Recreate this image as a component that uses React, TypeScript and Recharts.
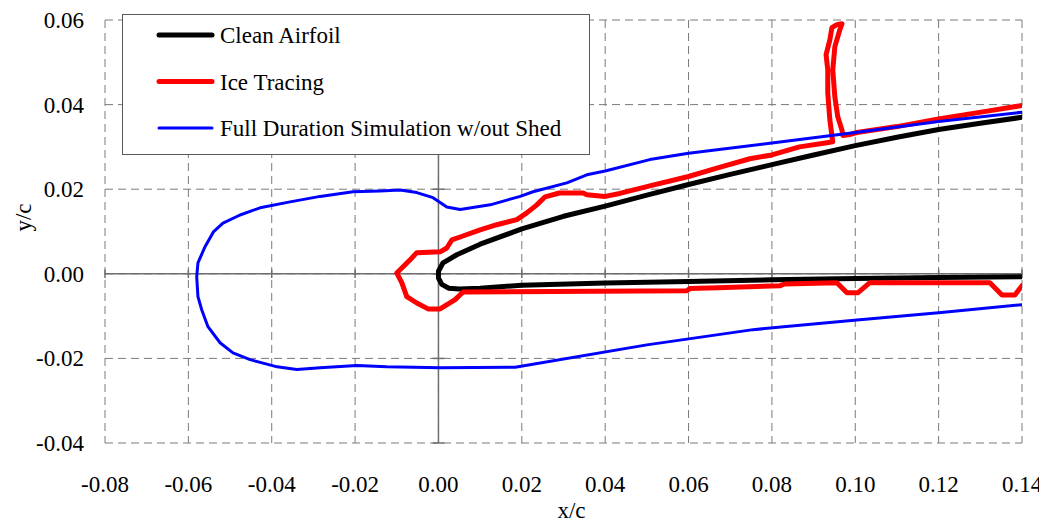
import { LineChart, Line, XAxis, YAxis, CartesianGrid, ReferenceLine, Legend, Label } from 'recharts'

const FONT = '"Liberation Serif", "Times New Roman", serif'
const GRID = '#7a7a7a'

const X_TICKS = [-0.08, -0.06, -0.04, -0.02, 0, 0.02, 0.04, 0.06, 0.08, 0.1, 0.12, 0.14]
const Y_TICKS = [-0.04, -0.02, 0, 0.02, 0.04, 0.06]

// clean section: upper surface from x/c = 0.14 forward to the nose, then lower surface aft
const cleanAirfoil: Array<[number, number]> = [
  [0.14, 0.037], [0.13, 0.0356], [0.12, 0.0341], [0.11, 0.0323], [0.1, 0.0303],
  [0.09, 0.0281], [0.08, 0.0258], [0.07, 0.0235], [0.06, 0.0211], [0.05, 0.0186],
  [0.04, 0.016], [0.03, 0.0136], [0.02, 0.0106], [0.01, 0.007], [0.0044, 0.0045],
  [0.0011, 0.0026], [0.0, 0.0006], [0.0, -0.001], [0.0008, -0.0025], [0.0025, -0.0034],
  [0.005, -0.0036], [0.01, -0.0034], [0.02, -0.0027], [0.04, -0.0022], [0.06, -0.0018],
  [0.08, -0.0014], [0.1, -0.0011], [0.12, -0.0009], [0.14, -0.0007],
]

// traced ice shape, upper surface incl. the horn, around the leading edge, lower surface
const iceTracing: Array<[number, number]> = [
  [0.14, 0.0398], [0.1313, 0.0384], [0.12, 0.0366], [0.11, 0.0348], [0.1004, 0.0334],
  [0.099, 0.033], [0.097, 0.0327], [0.0968, 0.034], [0.0958, 0.0371], [0.0951, 0.0418],
  [0.0946, 0.0482], [0.0951, 0.0537], [0.0963, 0.0577], [0.0968, 0.0591], [0.0956, 0.0589],
  [0.0944, 0.0582], [0.0939, 0.0553], [0.093, 0.0518], [0.0934, 0.0482], [0.0934, 0.0428],
  [0.0939, 0.0364], [0.0946, 0.0312], [0.0932, 0.031], [0.0866, 0.03], [0.08, 0.0281],
  [0.0747, 0.0272], [0.0668, 0.025], [0.06, 0.023], [0.0507, 0.0208], [0.0435, 0.019],
  [0.04, 0.0183], [0.0356, 0.0187], [0.0347, 0.0191], [0.029, 0.0191], [0.0256, 0.0182],
  [0.0236, 0.0163], [0.0212, 0.0144], [0.0188, 0.0128], [0.014, 0.0116], [0.01, 0.0104],
  [0.0052, 0.0087], [0.0032, 0.008], [0.002, 0.0061], [0.0004, 0.0052], [-0.0052, 0.005],
  [-0.0068, 0.0033], [-0.01, 0.0002], [-0.0088, -0.0021], [-0.0076, -0.0054], [-0.0052, -0.0069],
  [-0.0025, -0.0083], [0.0004, -0.0083], [0.004, -0.0061], [0.0059, -0.0043], [0.0596, -0.004],
  [0.0603, -0.0035], [0.067, -0.0033], [0.082, -0.0028], [0.083, -0.0024], [0.0956, -0.0021],
  [0.098, -0.0045], [0.1006, -0.0045], [0.1035, -0.0021], [0.1323, -0.0021], [0.1352, -0.005],
  [0.1383, -0.005], [0.14, -0.0028],
]

// simulated ice accretion, full duration, no shedding
const fullDuration: Array<[number, number]> = [
  [0.14, 0.0382], [0.12, 0.036], [0.1, 0.0334], [0.08, 0.0309], [0.06, 0.0285],
  [0.0507, 0.027], [0.04, 0.0243], [0.0356, 0.0234], [0.0308, 0.0215], [0.0227, 0.0194],
  [0.0196, 0.0183], [0.0124, 0.0163], [0.0052, 0.0152], [0.002, 0.0158], [-0.0013, 0.018],
  [-0.0052, 0.0192], [-0.0092, 0.0198], [-0.014, 0.0196], [-0.0205, 0.0194], [-0.0284, 0.0183],
  [-0.0356, 0.017], [-0.0428, 0.0156], [-0.0476, 0.0139], [-0.0517, 0.012], [-0.054, 0.0099],
  [-0.056, 0.0064], [-0.0577, 0.0026], [-0.058, -0.0007], [-0.0577, -0.0054], [-0.0568, -0.0085],
  [-0.0553, -0.0125], [-0.0524, -0.0163], [-0.0493, -0.0187], [-0.0452, -0.0203], [-0.0387, -0.022],
  [-0.034, -0.0226], [-0.0284, -0.0222], [-0.0196, -0.0217], [-0.0124, -0.022], [0.0004, -0.0222],
  [0.0184, -0.0221], [0.05, -0.0168], [0.0755, -0.0132], [0.1004, -0.0109], [0.12, -0.0092],
  [0.14, -0.0073],
]

const SERIES = [
  { name: 'Clean Airfoil', color: '#000000', width: 5, points: cleanAirfoil },
  { name: 'Ice Tracing', color: '#ff0000', width: 5, points: iceTracing },
  { name: 'Full Duration Simulation w/out Shed', color: '#0000ff', width: 3, points: fullDuration },
]

const toRows = (pts: Array<[number, number]>) => pts.map(([x, y]) => ({ x, y }))

const XTick = ({ x, y, payload }: any) => (
  <text x={x} y={y + 47} textAnchor="middle" fontFamily={FONT} fontSize={23} fill="#000">
    {payload.value.toFixed(2)}
  </text>
)

const YTick = ({ x, y, payload }: any) => (
  <text x={x - 19} y={y} dy="0.35em" textAnchor="end" fontFamily={FONT} fontSize={23} fill="#000">
    {payload.value.toFixed(2)}
  </text>
)

const XTitle = ({ viewBox }: any) => (
  <text x={viewBox.x + viewBox.width / 2 + 8} y={viewBox.y + viewBox.height - 5} textAnchor="middle"
    fontFamily={FONT} fontSize={23} fill="#000">
    x/c
  </text>
)

const YTitle = ({ viewBox }: any) => {
  const cx = 15
  const cy = viewBox.y + viewBox.height / 2 - 14
  return (
    <text x={cx} y={cy} transform={`rotate(-90 ${cx} ${cy})`} textAnchor="middle" dy="0.35em"
      fontFamily={FONT} fontSize={23} fill="#000">
      y/c
    </text>
  )
}

const LegendBox = () => (
  <svg width={468} height={141} style={{ display: 'block', fontFamily: FONT }}>
    <rect x={0.5} y={0.5} width={467} height={140} fill="#fff" stroke="#595959" />
    {SERIES.map((s, i) => {
      const cy = 21 + i * 46.5
      return (
        <g key={s.name}>
          <line x1={37} x2={90} y1={cy} y2={cy} stroke={s.color} strokeWidth={s.width} strokeLinecap="round" />
          <text x={98} y={cy + 8} fontSize={23} fill="#000">{s.name}</text>
        </g>
      )
    })}
  </svg>
)

export default function App() {
  return (
    <LineChart width={1039} height={515} margin={{ top: 12, right: 25, bottom: 0, left: 0 }}>
      <CartesianGrid stroke={GRID} strokeDasharray="8 5" />
      <XAxis type="number" dataKey="x" domain={[-0.08, 0.14]} ticks={X_TICKS} allowDataOverflow
        height={80} axisLine={false} tickLine={false} tickSize={0} tick={<XTick />} interval={0}>
        <Label content={<XTitle />} />
      </XAxis>
      <YAxis type="number" dataKey="y" domain={[-0.04, 0.06]} ticks={Y_TICKS} allowDataOverflow
        width={97} axisLine={false} tickLine={false} tickSize={0} tick={<YTick />} interval={0}>
        <Label content={<YTitle />} />
      </YAxis>

      <ReferenceLine x={0} stroke="#6e6e6e" strokeWidth={1.5} />
      <ReferenceLine y={0} stroke="#6e6e6e" strokeWidth={1.5} />
      {Y_TICKS.map((t) => (
        <ReferenceLine key={`yt${t}`} segment={[{ x: -0.0014, y: t }, { x: 0.0014, y: t }]} stroke="#6e6e6e" strokeWidth={1.5} />
      ))}
      {X_TICKS.map((t) => (
        <ReferenceLine key={`xt${t}`} segment={[{ x: t, y: -0.001 }, { x: t, y: 0.001 }]} stroke="#6e6e6e" strokeWidth={1.5} />
      ))}

      {SERIES.map((s) => (
        <Line key={s.name} data={toRows(s.points)} dataKey="y" name={s.name} type="linear"
          stroke={s.color} strokeWidth={s.width} strokeLinejoin="round" strokeLinecap="round"
          dot={false} activeDot={false} isAnimationActive={false} />
      ))}

      <Legend layout="vertical" align="center" verticalAlign="middle" content={<LegendBox />}
        wrapperStyle={{ left: 114, top: 6, width: 468, height: 141 }} />
    </LineChart>
  )
}
